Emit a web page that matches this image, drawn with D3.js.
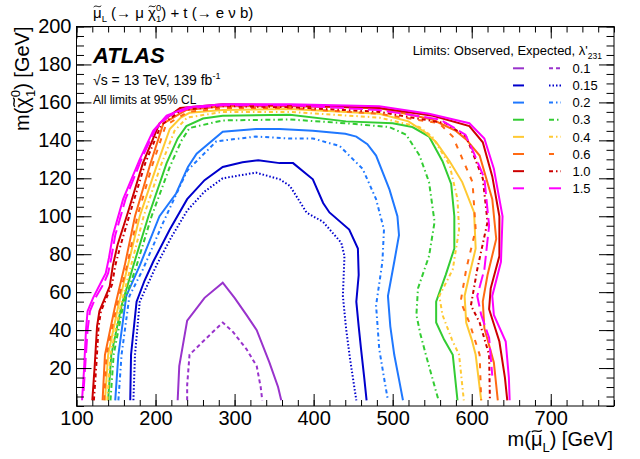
<!DOCTYPE html>
<html>
<head>
<meta charset="utf-8">
<script src="https://cdn.jsdelivr.net/npm/d3@7"></script>
<style>
  body { margin: 0; background: #fff; }
  text { font-family: "Liberation Sans", Arial, Helvetica, sans-serif; fill: #000; }
</style>
</head>
<body>
<svg width="640" height="459"></svg>
<script>
// lambda'_231 coupling values shown in the legend
const lambdas = ["0.1", "0.15", "0.2", "0.3", "0.4", "0.6", "1.0", "1.5"];

// exclusion contours, points are [m(smuon_L), m(chi0_1)] in GeV
// observed
const obs01 = [[228,3],[230,21],[240,45],[262,57],[285,65],[300,57],[315,48],[328,40],[344,23],[355,10],[359,3]];
const obs015 = [[168,3],[169,27],[176,55],[186,66],[197,76],[218,93],[240,109],[262,119],[285,126],[310,128.5],[330,129.5],[357,128],[374,128],[399,119.5],[412,107],[420,102],[445,93],[456,83],[457,69],[454,55],[457,42],[460,30],[464,15],[467,3]];
const obs02 = [[149,3],[153,27],[163,58],[180,74],[205,100],[226,112],[241,126],[252,133],[285,144.5],[327,146],[357,146],[399,145],[440,143.5],[454,142],[468,138],[479,132],[496,114],[506,100],[508,90],[502,76],[494,58],[497,42],[502,27],[508,14],[513,3]];
const obs03 = [[140,3],[144,27],[157,53],[172,74],[191,100],[214,128],[228,141],[239,147.5],[260,151.5],[285,153],[370,153.5],[441,150],[500,149],[525,147],[546,142],[563,129],[574,117],[578,100],[578,83],[567,69],[555,55],[555,44],[565,35],[576,27],[582,3]];
const obs04 = [[136,3],[140,27],[153,53],[165,74],[180,100],[201,126],[218,146],[232,152],[243,154.5],[285,156],[370,156.5],[483,154],[520,150],[542,144],[555,139],[572,129],[588,118],[603,102],[605,83],[597,69],[591,58],[593,44],[600,35],[605,27],[612,3]];
const obs06 = [[133,3],[136,27],[149,53],[161,74],[174,100],[193,127],[210,149],[239,156],[285,158],[370,158],[483,157],[550,151],[580,145],[593,140.5],[610,132],[626,109],[631,88],[620,69],[614,55],[616,41],[628,23],[633,3]];
const obs10 = [[120,3],[123,21],[126,42],[129,50],[134,55],[142,63],[146,74],[152,85],[165,102],[184,128],[205,149],[231,157],[285,159],[370,158.5],[483,157],[551,153],[597,147.5],[614,139],[626,121],[635,100],[635,79],[624,62],[622,51],[635,34],[642,15],[645,3]];
const obs15 = [[107,3],[109.5,19],[112,40],[114,50],[121,57],[132,66],[137,70],[141,78],[146,90],[159,109],[180,130],[197,145],[214,153],[241,157.5],[285,159],[370,159],[483,158],[546,154],[597,149],[616,141],[628,125],[639,100],[637,76],[626,58],[628,48],[643,34],[647,15],[648,3]];
// expected
const exp01 = [[240,3],[240,11],[243,27],[260,34],[285,44],[298,39],[315,30],[328,21],[333,10],[335,3]];
const exp015 = [[172,3],[174,27],[180,55],[201,74],[220,89],[240,103],[262,113],[285,120],[327,123],[357,119.5],[370,116],[391,102],[412,97],[435,86],[439,79],[437,58],[441,41],[446,25],[454,3]];
const exp02 = [[153,3],[157,27],[167,58],[184,72],[210,97],[240,124],[277,139.5],[327,142],[369,141],[399,141],[433,137],[462,125],[479,109],[489,93],[487,76],[479,53],[483,30],[489,15],[494,3]];
const exp03 = [[143,3],[147,27],[159,53],[176,74],[195,100],[218,126],[233,140],[243,146.5],[285,150.5],[370,151],[441,149],[496,147],[517,143],[534,132],[546,118],[553,97],[546,79],[532,62],[530,48],[535,38],[542,27],[552,12],[558,3]];
const exp04 = [[139,3],[143,27],[156,53],[169,74],[185,100],[206,126],[224,145],[240,152],[285,155],[370,155],[483,152],[534,147],[550,142],[572,127],[582,109],[584,93],[576,72],[559,58],[563,48],[575,35],[584,27],[590,3]];
const exp06 = [[135,3],[138,27],[151,53],[164,74],[177,100],[196,127],[213,148],[241,155],[285,157],[370,157],[483,154],[559,149],[576,142],[601,118],[605,93],[593,72],[586,55],[597,44],[610,27],[612,3]];
const exp10 = [[122,3],[125,21],[128,42],[131,50],[137,56],[145,64],[149,74],[156,85],[168,102],[187,128],[207,148],[233,156],[285,158],[370,157.5],[483,155],[567,149],[593,142],[614,120],[620,97],[607,72],[599,53],[610,44],[622,27],[623,3]];
const exp15 = [[109,8],[111,21],[114,40],[117,50],[124,57],[135,65],[140,70],[144,78],[149,90],[162,109],[183,131],[200,146],[217,153],[243,157],[285,158.5],[370,158.5],[483,156],[560,151],[592,143],[601,135],[616,120],[622,95],[616,72],[607,58],[612,48],[622,36],[626,16]];

const observed = [obs01, obs015, obs02, obs03, obs04, obs06, obs10, obs15];
const expected = [exp01, exp015, exp02, exp03, exp04, exp06, exp10, exp15];

// axis ticks
const xMajor = [100, 200, 300, 400, 500, 600, 700];
const yMajor = [20, 40, 60, 80, 100, 120, 140, 160, 180, 200];

// line styles per lambda
const colours = ["#9933cc", "#0000cc", "#1f78ff", "#33cc33", "#ffc933", "#ff6a13", "#cc0000", "#ff00ff"];
const dashes = ["4,3", "1.5,2", "4,3,1.5,3", "5,3,1.5,3", "4,3,1.5,3", "5,7", "4,3,1.5,3", "14,5"];

const svg = d3.select("svg");
svg.append("rect").attr("width", 640).attr("height", 459).attr("fill", "#fff");

// frame geometry
const L = 76.5, R = 614, T = 26.5, B = 406;
const x = d3.scaleLinear().domain([100, 780]).range([L, R]);
const y = d3.scaleLinear().domain([0, 200]).range([B, T]);

svg.append("clipPath").attr("id", "frame")
  .append("rect").attr("x", L).attr("y", T).attr("width", R - L).attr("height", B - T);

// contours
const line = d3.line().x(d => x(d[0])).y(d => y(d[1]));
const plot = svg.append("g").attr("clip-path", "url(#frame)");
lambdas.forEach((l, i) => {
  plot.append("path").datum(expected[i])
    .attr("d", line).attr("fill", "none")
    .attr("stroke", colours[i]).attr("stroke-width", 2)
    .attr("stroke-dasharray", dashes[i]);
  plot.append("path").datum(observed[i])
    .attr("d", line).attr("fill", "none")
    .attr("stroke", colours[i]).attr("stroke-width", 2);
});

// axes with inward ticks on all four sides
const xMinor = d3.range(100, 781, 20);
const yMinor = d3.range(0, 201, 5);
function styleAxis(g) {
  g.select(".domain").remove();
  g.selectAll("line").attr("stroke", "#000").attr("stroke-width", 1);
  g.selectAll("text").style("font-size", "20px").attr("fill", "#000");
}
svg.append("g").attr("transform", `translate(0,${B})`)
  .call(d3.axisBottom(x).tickValues(xMinor).tickSize(-6).tickFormat("")).call(styleAxis);
svg.append("g").attr("transform", `translate(0,${B})`)
  .call(d3.axisBottom(x).tickValues(xMajor).tickSize(-12).tickPadding(5).tickFormat(d3.format("d"))).call(styleAxis);
svg.append("g").attr("transform", `translate(0,${T})`)
  .call(d3.axisTop(x).tickValues(xMinor).tickSize(-6).tickFormat("")).call(styleAxis);
svg.append("g").attr("transform", `translate(0,${T})`)
  .call(d3.axisTop(x).tickValues(xMajor).tickSize(-12).tickFormat("")).call(styleAxis);
svg.append("g").attr("transform", `translate(${L},0)`)
  .call(d3.axisLeft(y).tickValues(yMinor).tickSize(-7.5).tickFormat("")).call(styleAxis);
svg.append("g").attr("transform", `translate(${L},0)`)
  .call(d3.axisLeft(y).tickValues(yMajor).tickSize(-15).tickPadding(5).tickFormat(d3.format("d"))).call(styleAxis);
svg.append("g").attr("transform", `translate(${R},0)`)
  .call(d3.axisRight(y).tickValues(yMinor).tickSize(-7.5).tickFormat("")).call(styleAxis);
svg.append("g").attr("transform", `translate(${R},0)`)
  .call(d3.axisRight(y).tickValues(yMajor).tickSize(-15).tickFormat("")).call(styleAxis);

svg.append("rect").attr("x", L).attr("y", T).attr("width", R - L).attr("height", B - T)
  .attr("fill", "none").attr("stroke", "#000").attr("stroke-width", 1);

// draw a ROOT style tilde over character idx of a text element
function tilde(parent, textSel, idx, sw) {
  const b = textSel.node().getExtentOfChar(idx);
  const x0 = b.x + b.width * 0.08, x1 = b.x + b.width * 0.95;
  const w = x1 - x0, yy = b.y + b.height * 0.14, a = b.height * 0.04;
  parent.append("path")
    .attr("d", `M${x0},${yy + a} C${x0 + w / 3},${yy - 3 * a} ${x0 + 2 * w / 3},${yy + 3 * a} ${x1},${yy - a}`)
    .attr("fill", "none").attr("stroke", "#000").attr("stroke-width", sw);
}

// axis titles
const xt = svg.append("text").attr("x", 613).attr("y", 446)
  .attr("text-anchor", "end").style("font-size", "20px");
xt.append("tspan").text("m(\u03bc");
xt.append("tspan").attr("dy", 6).style("font-size", "13px").text("L");
xt.append("tspan").attr("dy", -6).text(") [GeV]");
tilde(svg, xt, 2, 1.3);

const yg = svg.append("g").attr("transform", `translate(29,${T}) rotate(-90)`);
const yt = yg.append("text").attr("text-anchor", "end").style("font-size", "20px");
yt.append("tspan").text("m(\u03c7");
yt.append("tspan").attr("dy", -9).style("font-size", "13px").text("0");
yt.append("tspan").attr("dx", -7.2).attr("dy", 15).style("font-size", "13px").text("1");
yt.append("tspan").attr("dy", -6).text(") [GeV]");
tilde(yg, yt, 2, 1.3);

// process title
const tt = svg.append("text").attr("x", 93).attr("y", 18).style("font-size", "15px");
tt.append("tspan").text("\u03bc");
tt.append("tspan").attr("dy", 4).style("font-size", "9.5px").text("L");
tt.append("tspan").attr("dy", -4).text(" (\u2192 \u03bc \u03c7");
tt.append("tspan").attr("dy", -7).style("font-size", "9.5px").text("0");
tt.append("tspan").attr("dx", -5.3).attr("dy", 11).style("font-size", "9.5px").text("1");
tt.append("tspan").attr("dy", -4).text(") + t (\u2192 e \u03bd b)");
tilde(svg, tt, 0, 1);
tilde(svg, tt, 8, 1);

// ATLAS label
svg.append("text").attr("x", 93).attr("y", 63)
  .style("font-size", "22px").style("font-weight", "bold").style("font-style", "italic")
  .text("ATLAS");
const en = svg.append("text").attr("x", 93).attr("y", 85).style("font-size", "14px");
en.append("tspan").text("\u221as = 13 TeV, 139 fb");
en.append("tspan").attr("dy", -6).style("font-size", "9px").text("-1");
svg.append("text").attr("x", 93).attr("y", 104).style("font-size", "12px")
  .text("All limits at 95% CL");

// legend
const lh = svg.append("text").attr("x", 602).attr("y", 55)
  .attr("text-anchor", "end").style("font-size", "13px");
lh.append("tspan").text("Limits: Observed, Expected, \u03bb'");
lh.append("tspan").attr("dy", 4).style("font-size", "8.5px").text("231");

const rowY = d3.scaleLinear().domain([0, lambdas.length - 1]).range([68.3, 188.3]);
const leg = svg.append("g");
lambdas.forEach((l, i) => {
  const ry = rowY(i);
  leg.append("line").attr("x1", 513).attr("x2", 524).attr("y1", ry).attr("y2", ry)
    .attr("stroke", colours[i]).attr("stroke-width", 2);
  leg.append("line").attr("x1", 549).attr("x2", 561).attr("y1", ry).attr("y2", ry)
    .attr("stroke", colours[i]).attr("stroke-width", 2).attr("stroke-dasharray", dashes[i]);
  leg.append("text").attr("x", 572.5).attr("y", ry).attr("dy", "0.36em")
    .style("font-size", "13px").text(l);
});
</script>
</body>
</html>
